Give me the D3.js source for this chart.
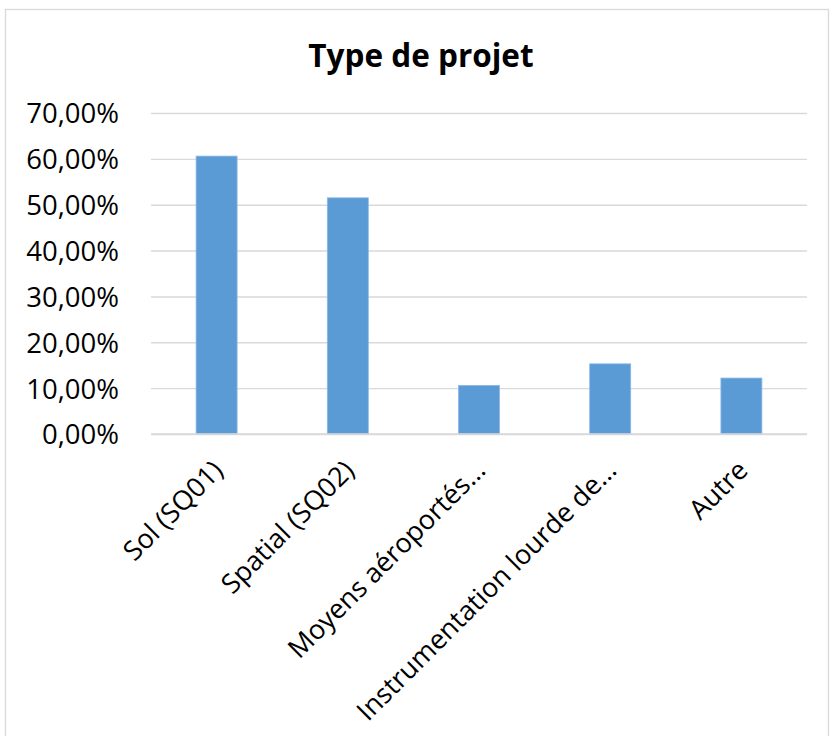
<!DOCTYPE html>
<html>
<head>
<meta charset="utf-8">
<script src="https://cdn.jsdelivr.net/npm/d3@7"></script>
<style>
  html, body { margin: 0; padding: 0; background: #fff; }
  svg { display: block; }
  text { font-family: "Open Sans", "Noto Sans", sans-serif; fill: #000; }
</style>
</head>
<body>
<script>
// Project types and their share of responses
const categories = ["Sol (SQ01)", "Spatial (SQ02)", "Moyens aéroportés…", "Instrumentation lourde de…", "Autre"];
const shares = [0.606, 0.515, 0.106, 0.153, 0.122];
const yTicks = [0, 0.1, 0.2, 0.3, 0.4, 0.5, 0.6, 0.7];
const chartTitle = "Type de projet";

const W = 831, H = 736;
const plot = { left: 151, right: 807, top: 113, bottom: 434 };
const FONT = '"Open Sans", "Noto Sans", sans-serif';

const svg = d3.select("body").append("svg")
  .attr("width", W).attr("height", H);

// chart frame
svg.append("rect")
  .attr("x", 5.5).attr("y", 9.5)
  .attr("width", 823).attr("height", H)
  .attr("fill", "#fff")
  .attr("stroke", "#D9D9D9").attr("stroke-width", 1.3);

const x = d3.scaleBand()
  .domain(categories)
  .range([plot.left, plot.right])
  .paddingInner(0.6875)
  .paddingOuter(0.34375);

const y = d3.scaleLinear()
  .domain([0, 0.7])
  .range([plot.bottom, plot.top]);

const fmt = v => d3.format(".2f")(v * 100).replace(".", ",") + "%";

// horizontal gridlines + value labels via a left axis
const yAxis = d3.axisLeft(y)
  .tickValues(yTicks)
  .tickSize(-(plot.right - plot.left))
  .tickPadding(plot.left - 119)
  .tickFormat(fmt);

const gy = svg.append("g")
  .attr("transform", `translate(${plot.left},0)`)
  .call(yAxis);
gy.select(".domain").remove();
gy.selectAll(".tick line")
  .attr("stroke", "#D9D9D9").attr("stroke-width", 1.4);
gy.selectAll(".tick text")
  .attr("font-size", 27.5)
  .attr("dy", "0.36em")
  .style("font-family", FONT);

// bars
svg.append("g").selectAll("rect")
  .data(categories)
  .join("rect")
  .attr("x", d => x(d))
  .attr("y", (d, i) => y(shares[i]))
  .attr("width", x.bandwidth())
  .attr("height", (d, i) => y(0) - y(shares[i]))
  .attr("fill", "#5B9BD5")
  .attr("stroke", "#8DB9E3")
  .attr("stroke-width", 0.8);

// category axis with rotated labels
const xAxis = d3.axisBottom(x).tickSize(0).tickPadding(0);
const gx = svg.append("g")
  .attr("transform", `translate(0,${plot.bottom})`)
  .call(xAxis);
gx.select(".domain").remove();
gx.selectAll(".tick text")
  .attr("font-size", 27)
  .attr("text-anchor", "end")
  .attr("y", 0).attr("dy", 0)
  .attr("transform", "translate(8,38) rotate(-45)")
  .style("font-family", FONT);

// baseline at zero
svg.append("line")
  .attr("x1", plot.left).attr("x2", plot.right)
  .attr("y1", y(0)).attr("y2", y(0))
  .attr("stroke", "#D9D9D9").attr("stroke-width", 1.4);

// title
svg.append("text")
  .attr("x", 421).attr("y", 67)
  .attr("text-anchor", "middle")
  .attr("font-size", 31.5)
  .attr("font-weight", "bold")
  .style("font-family", FONT)
  .text(chartTitle);
</script>
</body>
</html>
